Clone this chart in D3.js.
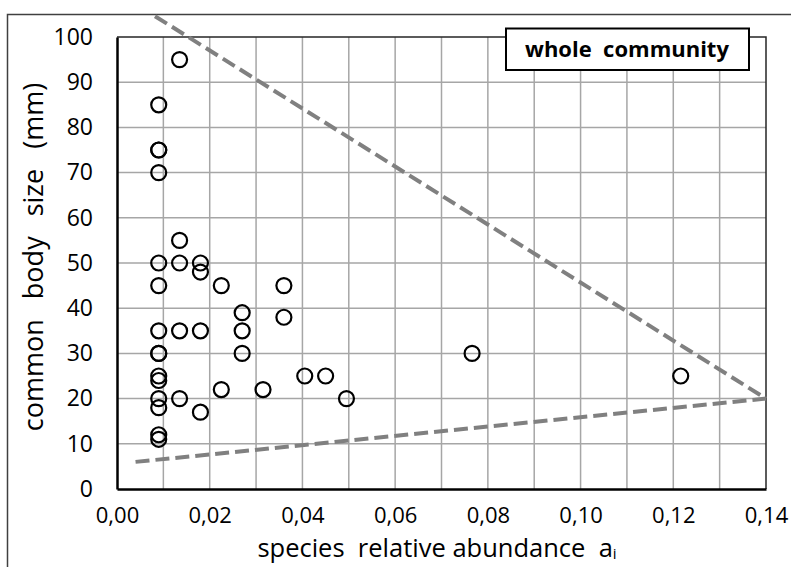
<!DOCTYPE html>
<html><head><meta charset="utf-8">
<script src="https://cdn.jsdelivr.net/npm/d3@7/dist/d3.min.js"></script>
<style>body{margin:0;background:#fff}svg{display:block}text{font-family:"Open Sans",sans-serif;white-space:pre}</style>
</head><body><svg id="c" width="791" height="567"></svg>
<script>
const abundance = [0.0135,0.009,0.009,0.009,0.009,0.0135,0.009,0.0135,0.018,0.018,0.009,0.0225,0.036,0.027,0.036,0.009,0.0135,0.018,0.027,0.009,0.009,0.027,0.0766,0.009,0.009,0.0405,0.045,0.1216,0.0225,0.0315,0.009,0.0135,0.0495,0.009,0.018,0.009,0.009];
const bodySize  = [95,85,75,75,70,55,50,50,50,48,45,45,45,39,38,35,35,35,35,30,30,30,30,25,24,25,25,25,22,22,20,20,20,18,17,12,11];
const xTicks = [0,0.02,0.04,0.06,0.08,0.10,0.12,0.14];
const yTicks = [0,10,20,30,40,50,60,70,80,90,100];
const upperLine = {x:[0.0082,0.14], y:[104.6,20]};
const lowerLine = {x:[0.004,0.14], y:[6,20]};

const svg = d3.select("#c");
const L=117,R=766,T=37,B=489;
const x = d3.scaleLinear().domain([0,0.14]).range([L,R]);
const y = d3.scaleLinear().domain([0,100]).range([B,T]);

// outer frame
svg.append("path").attr("d","M7.5,567 V14.5 H791").attr("fill","none").attr("stroke","#404040").attr("stroke-width",1.5);

// grid
const g = svg.append("g");
g.selectAll(".vg").data(d3.range(1,14).map(i=>i*0.01)).join("line")
 .attr("x1",d=>x(d)).attr("x2",d=>x(d)).attr("y1",T).attr("y2",B)
 .attr("stroke","#a6a6a6").attr("stroke-width",1.5);
g.selectAll(".hg").data(yTicks.slice(1,-1)).join("line")
 .attr("x1",L).attr("x2",R).attr("y1",d=>y(d)).attr("y2",d=>y(d))
 .attr("stroke","#a6a6a6").attr("stroke-width",1.5);
svg.append("path").attr("d",`M${L},${T} H${R} V${B}`).attr("fill","none").attr("stroke","#262626").attr("stroke-width",1.5);

// axes
const fmt = d=>d3.format(".2f")(d).replace(".",",");
const xa = svg.append("g").attr("transform",`translate(0,${B})`)
 .call(d3.axisBottom(x).tickValues(xTicks).tickFormat(fmt).tickSize(0).tickPadding(18));
xa.select(".domain").attr("stroke","#000").attr("stroke-width",2.5);
xa.selectAll("text").attr("fill","#000").style("font-size","22px").style("font-family","Open Sans");
const ya = svg.append("g").attr("transform",`translate(${L},0)`)
 .call(d3.axisLeft(y).tickValues(yTicks).tickSize(0).tickPadding(24));
ya.select(".domain").attr("stroke","#000").attr("stroke-width",2.5);
ya.selectAll("text").attr("fill","#000").style("font-size","23px").style("font-family","Open Sans");

// dashed lines
const line = d3.line().x(d=>x(d[0])).y(d=>y(d[1]));
[upperLine,lowerLine].forEach(l=>{
  svg.append("path").attr("d",line(l.x.map((v,i)=>[v,l.y[i]])))
   .attr("fill","none").attr("stroke","#808080").attr("stroke-width",4).attr("stroke-dasharray","14,6");
});

// points
svg.selectAll(".pt").data(abundance.map((a,i)=>[a,bodySize[i]])).join("circle")
 .attr("cx",d=>x(d[0])).attr("cy",d=>y(d[1])).attr("r",7.5)
 .attr("fill","none").attr("stroke","#000").attr("stroke-width",2.2);

// legend box
svg.append("rect").attr("x",506).attr("y",28.5).attr("width",243).attr("height",41.5)
 .attr("fill","#fff").attr("stroke","#000").attr("stroke-width",2);
svg.append("text").attr("x",627).attr("y",57).attr("text-anchor","middle")
 .style("font-size","22px").attr("font-weight","bold").text("whole  community");

// axis titles
const xt = svg.append("text").attr("x",437).attr("y",557).attr("text-anchor","middle").style("font-size","25.5px");
xt.append("tspan").text("species  relative abundance  a");
xt.append("tspan").style("font-size","15px").attr("dy",2).text("i");
svg.append("text").attr("transform","translate(43,257) rotate(-90)").attr("text-anchor","middle")
 .style("font-size","27px").attr("word-spacing","3").text("common  body  size  (mm)");
</script></body></html>
